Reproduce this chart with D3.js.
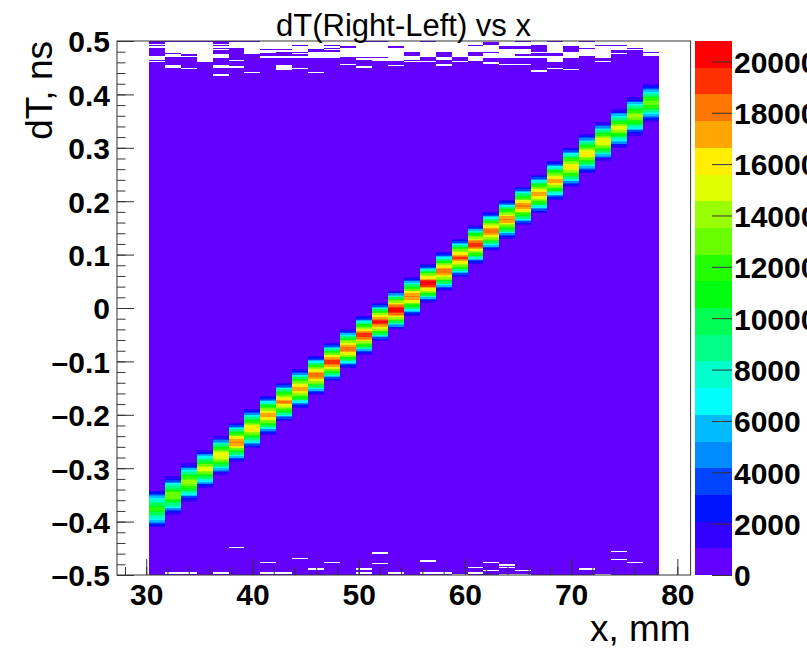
<!DOCTYPE html>
<html>
<head>
<meta charset="utf-8">
<script src="https://cdn.jsdelivr.net/npm/d3@7"></script>
<style>
  body { margin: 0; background: #fff; }
  svg { display: block; }
  text { font-family: "Liberation Sans", Arial, Helvetica, sans-serif; fill: #000; }
</style>
</head>
<body>
<svg id="chart" width="807" height="648"></svg>
<script>
// ---- histogram data -------------------------------------------------------
// x bins (mm): 1.5 mm wide, centres listed; histogram axis runs 27.25 .. 81.25
const xCenters = [31, 32.5, 34, 35.5, 37, 38.5, 40, 41.5, 43, 44.5, 46, 47.5, 49, 50.5, 52, 53.5,
                  55, 56.5, 58, 59.5, 61, 62.5, 64, 65.5, 67, 68.5, 70, 71.5, 73, 74.5, 76, 77.5];
const xBinWidth = 1.5;
const xRange = [27.25, 81.25];
// dT bins (ns): 0.0025 ns wide over -0.5 .. 0.5
const yBinWidth = 0.0025;
const yRange = [-0.5, 0.5];

// peak position (ns) and peak content of the dT distribution in each x bin
const peakCenter = [-0.375, -0.350, -0.325, -0.300, -0.275, -0.250, -0.225, -0.200, -0.175, -0.150,
                    -0.125, -0.100, -0.076, -0.051, -0.027, -0.003, 0.021, 0.046, 0.070, 0.094,
                    0.119, 0.143, 0.167, 0.191, 0.215, 0.239, 0.263, 0.288, 0.312, 0.336, 0.360, 0.384];
const peakCount = [11800, 13500, 14200, 15000, 15800, 18000, 16500, 17200, 17800, 17500,
                   18500, 19500, 18200, 19300, 20000, 20794, 18000, 20200, 18300, 19000,
                   19200, 18500, 17900, 18000, 17400, 17000, 16600, 16100, 15700, 15000, 14300, 13200];
// fraction of the peak content found 0, 1, 2, ... dT bins away from the peak bin
const peakProfile = [1.00, 0.98, 0.93, 0.87, 0.81, 0.75, 0.69, 0.62, 0.55, 0.47,
                     0.38, 0.29, 0.20, 0.13, 0.08, 0.045, 0.02, 0.01];
// content of the flat background bins
const backgroundCount = 300;

// occupancy of the top dT bins per x bin, counted down from +0.5 ns
// ('#' filled, '.' empty); every bin below the string is filled
const topOccupancy = [
  "##.#.######...#.", "#........#..######..", "#.........#.########.", "#...............",
  "##.#.#.###...#####..#####.", "#....#########.####.", "#.........#############.", "......#..##..",
  "......#.###..#####....", "...#....#.#..#######.", "......##.....##########.", "...#.#.#.....",
  "....#.......#####.", "#...........#.#####.", "#...........#..", "....#..........###.",
  "........###...#.", "#...........###.", "........####..###..", "............###.",
  "...#....###....", ".##.....#....###.", "....##.......####.", "#...##....#..####.",
  "...#####.##..#########.", "#........##.....####.", "....####.....########.", "#....#.....",
  "...#.........##.", "...#...##.", ".....#.", "........#.."
];
// empty dT bins near -0.5 ns per x bin, counted up from -0.5 ns
const bottomEmpty = [[], [1], [1], [], [1], [20], [], [9, 1], [1], [12], [4], [9], [], [4, 1], [16, 8], [1],
                     [], [10, 1], [1], [0], [5, 1], [9, 3], [7, 5, 0], [3, 0], [], [], [], [4], [0], [17, 11], [9], []];

// colour scale
const zMax = 20794;
const nContours = 20;
const paletteColors = ["#6300ff", "#3300ff", "#0014ff", "#0044ff", "#008bff", "#00bbff", "#00fffc", "#00ffcc",
                       "#00ff85", "#00ff55", "#00ff0e", "#22ff00", "#69ff00", "#99ff00", "#e0ff00", "#ffee00",
                       "#ffa700", "#ff7700", "#ff3000", "#ff0000"];

// axis ticks and labels
const xTicks = [30, 40, 50, 60, 70, 80];
const yTicks = [-0.5, -0.4, -0.3, -0.2, -0.1, 0, 0.1, 0.2, 0.3, 0.4, 0.5];
const zTicks = [0, 2000, 4000, 6000, 8000, 10000, 12000, 14000, 16000, 18000, 20000];
const titleText = "dT(Right-Left) vs x";
const xTitle = "x, mm";
const yTitle = "dT, ns";

// ---- layout ---------------------------------------------------------------
const frame = { left: 117, right: 690.6, top: 41, bottom: 575 };
const bar = { left: 695, right: 732 };

const svg = d3.select("#chart");
const x = d3.scaleLinear().domain(xRange).range([frame.left, frame.right]);
const y = d3.scaleLinear().domain(yRange).range([frame.bottom, frame.top]);
const z = d3.scaleLinear().domain([0, zMax]).range([frame.bottom, frame.top]);
const levelOf = v => Math.min(nContours - 1, Math.floor(v / (zMax / nContours)));

// ---- build bin contents ---------------------------------------------------
const nY = Math.round((yRange[1] - yRange[0]) / yBinWidth);
const columns = xCenters.map((xc, c) => {
  const counts = new Array(nY).fill(backgroundCount);
  const occ = topOccupancy[c];
  for (let r = 0; r < occ.length; r++) if (occ[r] === ".") counts[r] = 0;
  bottomEmpty[c].forEach(b => { counts[nY - 1 - b] = 0; });
  const rc = Math.floor((yRange[1] - peakCenter[c]) / yBinWidth);
  for (let k = -(peakProfile.length - 1); k < peakProfile.length; k++) {
    const r = rc + k;
    const v = peakCount[c] * peakProfile[Math.abs(k)];
    if (r >= 0 && r < nY && v > counts[r]) counts[r] = v;
  }
  // merge neighbouring bins that share a colour level into single runs
  const runs = [];
  let cur = null;
  counts.forEach((v, r) => {
    const key = v > 0 ? levelOf(v) : -1;
    if (cur && cur.key === key) { cur.n++; }
    else { cur = { key, r0: r, n: 1 }; runs.push(cur); }
  });
  return { xc, runs: runs.filter(d => d.key >= 0) };
});

// ---- draw cells -----------------------------------------------------------
const cells = svg.append("g").attr("shape-rendering", "crispEdges");
columns.forEach(col => {
  const x0 = Math.round(x(col.xc - xBinWidth / 2)), x1 = Math.round(x(col.xc + xBinWidth / 2));
  cells.selectAll(null).data(col.runs).enter().append("rect")
    .attr("x", x0)
    .attr("width", x1 - x0)
    .attr("y", d => y(yRange[1] - d.r0 * yBinWidth))
    .attr("height", d => y(yRange[1] - (d.r0 + d.n) * yBinWidth) - y(yRange[1] - d.r0 * yBinWidth))
    .attr("fill", d => paletteColors[d.key]);
});

// ---- frame and axes -------------------------------------------------------
const axisColor = "#333";
svg.append("rect")
  .attr("x", frame.left).attr("y", frame.top)
  .attr("width", frame.right - frame.left).attr("height", frame.bottom - frame.top)
  .attr("fill", "none").attr("stroke", axisColor).attr("stroke-width", 1);

const fmt = d3.format(".1f");
const yLabel = d => d === 0 ? "0" : (d < 0 ? "\u2013" + fmt(-d) : fmt(d));

function styleAxis(g) {
  g.select(".domain").remove();
  g.selectAll("line").attr("stroke", axisColor);
  g.selectAll("text").attr("font-size", 30).attr("font-weight", "bold")
    .attr("font-family", "'Liberation Sans', Arial, sans-serif").attr("fill", "#000");
}

// y axis: major ticks every 0.1, minor every 0.02, drawn inside the frame
svg.append("g").attr("transform", `translate(${frame.left},0)`)
  .call(d3.axisLeft(y).tickValues(d3.range(-25, 26).map(i => i * 0.02)).tickSize(-8.5).tickFormat(""))
  .call(styleAxis);
svg.append("g").attr("transform", `translate(${frame.left},0)`)
  .call(d3.axisLeft(y).tickValues(yTicks).tickSize(-17).tickPadding(7).tickFormat(yLabel))
  .call(styleAxis)
  .call(g => g.selectAll("text").attr("dy", "0.36em"));

// x axis: major ticks every 10 mm, minor every 2 mm
svg.append("g").attr("transform", `translate(0,${frame.bottom})`)
  .call(d3.axisBottom(x).tickValues(d3.range(28, 82, 2)).tickSize(-8).tickFormat(""))
  .call(styleAxis);
svg.append("g").attr("transform", `translate(0,${frame.bottom})`)
  .call(d3.axisBottom(x).tickValues(xTicks).tickSize(-16).tickPadding(8).tickFormat(d3.format("d")))
  .call(styleAxis)
  .call(g => g.selectAll("text").attr("dy", "0.72em"));

// ---- colour bar -----------------------------------------------------------
const levels = d3.range(nContours);
svg.append("g").attr("shape-rendering", "crispEdges")
  .selectAll("rect").data(levels).enter().append("rect")
  .attr("x", bar.left)
  .attr("width", bar.right - bar.left)
  .attr("y", i => z((i + 1) * zMax / nContours))
  .attr("height", i => z(i * zMax / nContours) - z((i + 1) * zMax / nContours))
  .attr("fill", i => paletteColors[i]);
svg.append("g").attr("transform", `translate(${bar.right},0)`)
  .call(d3.axisRight(z).tickValues(zTicks).tickSize(-20).tickPadding(2).tickFormat(d3.format("d")))
  .call(styleAxis)
  .call(g => g.selectAll("text").attr("dy", "0.36em"));

// ---- titles ---------------------------------------------------------------
svg.append("text").attr("x", 403.5).attr("y", 36).attr("text-anchor", "middle")
  .attr("font-size", 31).text(titleText);
svg.append("text").attr("x", frame.right).attr("y", 641).attr("text-anchor", "end")
  .attr("font-size", 37).text(xTitle);
svg.append("text").attr("transform", `translate(52,${frame.top}) rotate(-90)`)
  .attr("text-anchor", "end").attr("font-size", 37).text(yTitle);
</script>
</body>
</html>
